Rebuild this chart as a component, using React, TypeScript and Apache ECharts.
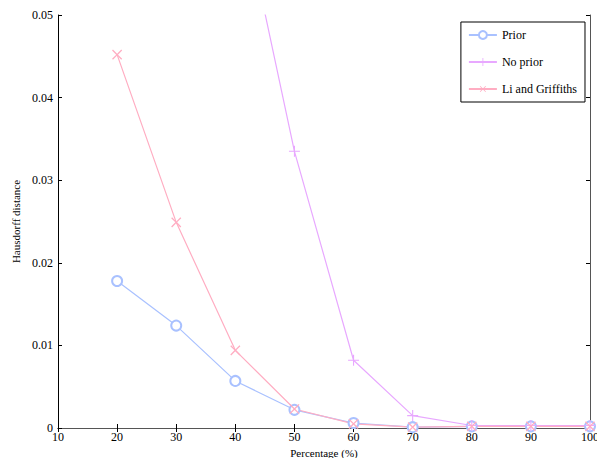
import React, { useEffect, useRef } from "react";
import * as echarts from "echarts";

const percentages = [20, 30, 40, 50, 60, 70, 80, 90, 100];
const priorValues = [0.0178, 0.0124, 0.0057, 0.0022, 0.0006, 0.0001, 0.0002, 0.0002, 0.0002];
const noPriorValues = [0.11, 0.09, 0.067, 0.0335, 0.0082, 0.0015, 0.0003, 0.0003, 0.0003];
const liValues = [0.0452, 0.0249, 0.0094, 0.0023, 0.0005, 0.0001, 0.0002, 0.0002, 0.0002];
const seriesNames = ["Prior", "No prior", "Li and Griffiths"];
const seriesColors = ["#a9c1ff", "#e8a8ff", "#ffadc2"];

const PLUS = "path://M4.5,0H5.5V4.5H10V5.5H5.5V10H4.5V5.5H0V4.5H4.5Z";

const FONT = "Liberation Serif";

export default function App() {
  const ref = useRef<HTMLDivElement>(null);
  useEffect(() => {
    if (!ref.current) return;
    const chart = echarts.init(ref.current, null, { renderer: "svg", width: 597, height: 458 });
    const toPairs = (vals: number[]) => percentages.map((p, i) => [p, vals[i]]);
    const axisLineBlack = { show: true, lineStyle: { color: "#000", width: 1 } };
    const axisLineGrey = { show: true, lineStyle: { color: "#555", width: 1 } };
    chart.setOption({
      animation: false,
      textStyle: { fontFamily: FONT },
      grid: { left: 58, right: 7, top: 15, bottom: 30, containLabel: false, outerBoundsMode: "none" },
      legend: {
        orient: "vertical",
        right: 12,
        top: 22,
        itemWidth: 28,
        itemHeight: 10,
        itemGap: 15,
        padding: [7, 8, 7, 7],
        borderColor: "#000",
        borderWidth: 1,
        backgroundColor: "#fff",
        textStyle: { fontFamily: FONT, fontSize: 12, color: "#000" },
        data: seriesNames,
      },
      xAxis: [
        {
          type: "value",
          min: 10,
          max: 100,
          interval: 10,
          name: "Percentage (%)",
          nameLocation: "middle",
          nameGap: 16,
          nameTextStyle: { fontFamily: FONT, fontSize: 11, color: "#000" },
          axisLine: axisLineBlack,
          axisTick: { show: true, inside: true, length: 4, lineStyle: { color: "#000" } },
          axisLabel: { fontFamily: FONT, fontSize: 12, color: "#000", margin: 3 },
          splitLine: { show: false },
        },
        {
          type: "value",
          position: "top",
          min: 10,
          max: 100,
          interval: 10,
          axisLine: axisLineGrey,
          axisTick: { show: true, inside: true, length: 4, lineStyle: { color: "#000" } },
          axisLabel: { show: false },
          splitLine: { show: false },
        },
      ],
      yAxis: [
        {
          type: "value",
          min: 0,
          max: 0.05,
          interval: 0.01,
          name: "Hausdorff distance",
          nameLocation: "middle",
          nameGap: 34,
          nameTextStyle: { fontFamily: FONT, fontSize: 11, color: "#000" },
          axisLine: axisLineBlack,
          axisTick: { show: true, inside: true, length: 4, lineStyle: { color: "#000" } },
          axisLabel: { fontFamily: FONT, fontSize: 12, color: "#000", margin: 5 },
          splitLine: { show: false },
        },
        {
          type: "value",
          position: "right",
          min: 0,
          max: 0.05,
          interval: 0.01,
          axisLine: axisLineGrey,
          axisTick: { show: true, inside: true, length: 4, lineStyle: { color: "#000" } },
          axisLabel: { show: false },
          splitLine: { show: false },
        },
      ],
      series: [
        {
          name: seriesNames[0],
          type: "line",
          data: toPairs(priorValues),
          symbol: "emptyCircle",
          symbolSize: 10,
          lineStyle: { color: seriesColors[0], width: 1.2 },
          itemStyle: { color: seriesColors[0], borderColor: seriesColors[0], borderWidth: 1.2 },
          clip: true,
        },
        {
          name: seriesNames[1],
          type: "line",
          data: toPairs(noPriorValues),
          symbol: PLUS,
          symbolSize: 11,
          lineStyle: { color: seriesColors[1], width: 1.2 },
          itemStyle: { color: seriesColors[1] },
          clip: true,
        },
        {
          name: seriesNames[2],
          type: "line",
          data: toPairs(liValues),
          symbol: PLUS,
          symbolSize: 13,
          symbolRotate: 45,
          lineStyle: { color: seriesColors[2], width: 1.2 },
          itemStyle: { color: seriesColors[2] },
          clip: true,
        },
      ],
    });
    return () => chart.dispose();
  }, []);
  return <div ref={ref} style={{ width: 597, height: 458, position: "absolute", left: 0, top: 0, background: "#fff" }} />;
}
